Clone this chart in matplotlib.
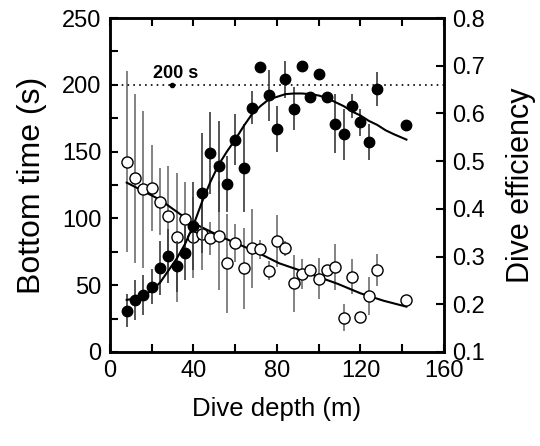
import matplotlib
matplotlib.use("Agg")
import matplotlib.pyplot as plt
from matplotlib.ticker import MultipleLocator

plt.rcParams['font.family'] = ['Liberation Sans', 'DejaVu Sans']

# dive depth bins (m)
depth = [8, 12, 16, 20, 24, 28, 32, 36, 40, 44, 48, 52, 56, 60, 64, 68,
         72, 76, 80, 84, 88, 92, 96, 100, 104, 108, 112, 116, 120, 124, 128, 142]

# bottom time (s), filled circles, left axis
bottom_time = [31, 39, 43, 49, 63, 72, 64, 74, 94, 119, 149, 139, 126, 159, 138, 183,
               213, 192, 167, 204, 182, 214, 191, 208, 191, 171, 163, 184, 172, 157, 197, 170]
bottom_err = [12.5, 15, 15, 13, 20, 20, 19, 20, 33, 45, 31, 34, 21, 19, 33, 12,
              0, 19, 17, 14, 16, 0, 0, 0, 0, 22, 19, 9, 10, 13.5, 12.5, 0]

# dive efficiency, open circles, right axis
efficiency = [0.499, 0.464, 0.441, 0.443, 0.415, 0.384, 0.340, 0.379, 0.340, 0.347, 0.338,
              0.344, 0.286, 0.328, 0.275, 0.317, 0.315, 0.270, 0.333, 0.317, 0.244, 0.263,
              0.272, 0.254, 0.272, 0.278, 0.172, 0.258, 0.174, 0.217, 0.272, 0.209]
eff_err = [0.19, 0.177, 0.165, 0.09, 0.07, 0.106, 0.136, 0.078, 0.085, 0.075, 0.035,
           0.114, 0.104, 0.04, 0.085, 0.083, 0.02, 0.02, 0.054, 0.015, 0.06, 0.032,
           0.01, 0.043, 0, 0.048, 0.029, 0.036, 0, 0.04, 0.034, 0]

# fitted curves
fit_bt_x = [8, 12, 16, 20, 24, 28, 32, 36, 40, 44, 48, 52, 56, 60, 64, 68, 72, 76, 80,
            84, 88, 92, 96, 100, 104, 108, 112, 116, 120, 124, 128, 132, 136, 142]
fit_bt_y = [39, 40, 42, 46, 52, 61, 70, 81, 95, 112, 127, 140, 150, 159, 169, 178, 184, 189, 191,
            193, 193.5, 193.5, 193, 192, 190, 187, 184, 180, 177, 173, 170, 166, 163, 159]
fit_eff_x = [8, 24, 39, 54, 70, 81, 93, 109, 120, 131, 142]
fit_eff_y = [0.455, 0.419, 0.372, 0.340, 0.310, 0.286, 0.268, 0.243, 0.223, 0.2075, 0.195]

limit = 200

fig = plt.figure(figsize=(5.4, 4.46), dpi=100)
ax = fig.add_axes([0.2037, 0.2108, 0.6185, 0.7488])
ax2 = ax.twinx()

# efficiency on twin axis
ax2.errorbar(depth, efficiency, yerr=eff_err, fmt='none', ecolor='#6e6e6e', elinewidth=1.2, zorder=2)
ax2.plot(fit_eff_x, fit_eff_y, color='black', lw=1.5, zorder=3)
ax2.plot(depth, efficiency, 'o', ms=8, mfc='white', mec='black', mew=1.0, zorder=4)

ax.errorbar(depth, bottom_time, yerr=bottom_err, fmt='none', ecolor='#3a3a3a', elinewidth=1.2, zorder=2)
ax.plot(fit_bt_x, fit_bt_y, color='black', lw=1.5, zorder=3)
ax.plot(depth, bottom_time, 'o', ms=7.5, mfc='black', mec='black', zorder=4)

ax.axhline(limit, color='black', ls=(0, (1, 2.5)), lw=1.2, zorder=1)
ax.plot([29.7], [limit], 'o', ms=3, color='black')
ax.text(20.5, 202, '200 s', fontsize=13, fontweight='bold', ha='left', va='bottom')

ax.set_zorder(ax2.get_zorder() + 1)
ax.patch.set_visible(False)

ax.set_xlim(0, 160)
ax.set_ylim(0, 250)
ax2.set_ylim(0.1, 0.8)
ax.xaxis.set_major_locator(MultipleLocator(40))
ax.xaxis.set_minor_locator(MultipleLocator(20))
ax.yaxis.set_major_locator(MultipleLocator(50))
ax.yaxis.set_minor_locator(MultipleLocator(25))
ax2.yaxis.set_major_locator(MultipleLocator(0.1))

ax.tick_params(axis='x', which='both', direction='in', top=True, labelsize=17, pad=6)
ax.tick_params(axis='y', which='both', direction='in', right=False, labelsize=17, pad=6)
ax.tick_params(which='major', length=6, width=1.5)
ax.tick_params(which='minor', length=6, width=1.5)
ax.tick_params(axis='x', which='minor', labelbottom=False)
ax2.tick_params(axis='y', direction='in', length=6, width=1.5, labelsize=17, pad=6)
ax2.set_yticklabels(['%.1f' % v for v in ax2.get_yticks()])

for a in (ax, ax2):
    for s in a.spines.values():
        s.set_linewidth(1.8)

ax.set_xlabel('Dive depth (m)', fontsize=18.5)
ax.set_ylabel('Bottom time (s)', fontsize=23)
ax2.set_ylabel('Dive efficiency', fontsize=22)
ax.xaxis.set_label_coords(0.5, -0.135)
ax.yaxis.set_label_coords(-0.19, 0.5)
ax2.yaxis.set_label_coords(1.185, 0.5)

fig.savefig('out.png', dpi=100)
